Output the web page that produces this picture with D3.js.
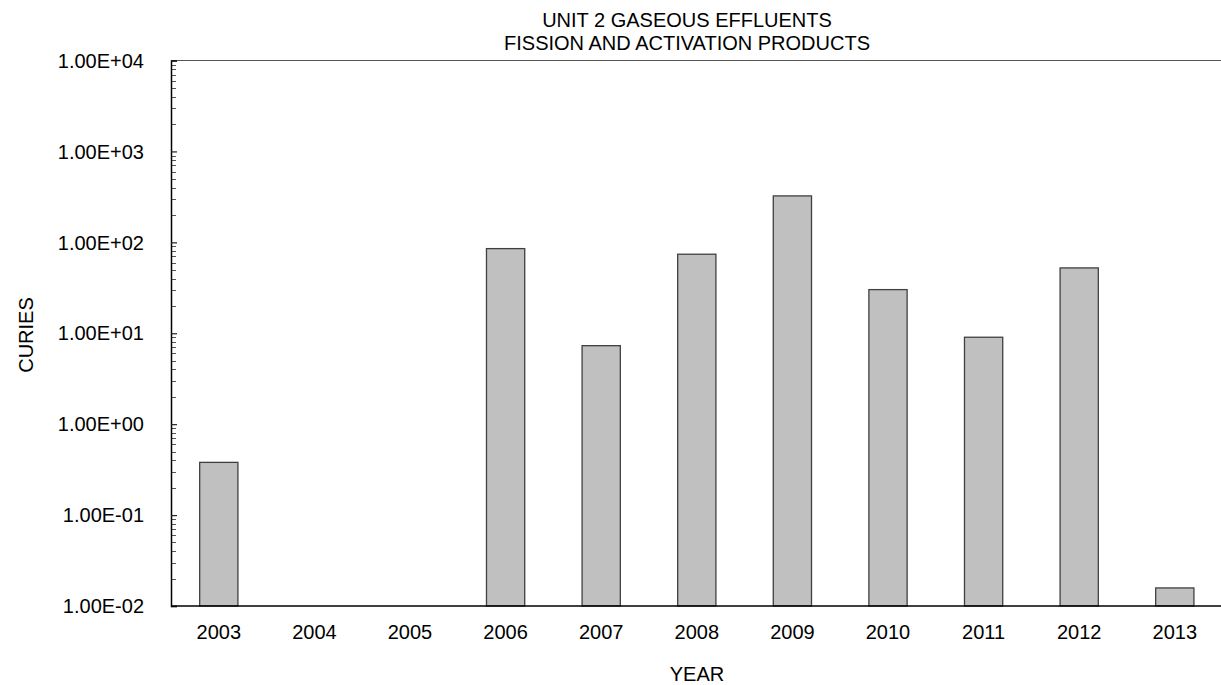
<!DOCTYPE html>
<html><head><meta charset="utf-8">
<script src="https://cdn.jsdelivr.net/npm/d3@7"></script>
<style>body{margin:0;background:#fff;}svg{display:block;font-family:Arial,"Liberation Sans",sans-serif;}</style>
</head><body>
<script>
const years = ["2003","2004","2005","2006","2007","2008","2009","2010","2011","2012","2013"];
const curies = [0.38, null, null, 85.3, 7.3, 74.0, 324, 30.2, 9.04, 52.3, 0.0158];
const yTickValues = [1e-2, 1e-1, 1e0, 1e1, 1e2, 1e3, 1e4];
const yTickLabels = ["1.00E-02","1.00E-01","1.00E+00","1.00E+01","1.00E+02","1.00E+03","1.00E+04"];
const titleLines = ["UNIT 2 GASEOUS EFFLUENTS","FISSION AND ACTIVATION PRODUCTS"];

const W = 1221, H = 685;
const L = 171, R = 1222.6, T = 60.5, B = 606;
const svg = d3.select("body").append("svg").attr("width", W).attr("height", H);

const x = d3.scaleBand().domain(years).range([L, R]).paddingInner(0.6).paddingOuter(0.3);
const y = d3.scaleLog().domain([1e-2, 1e4]).range([B, T]);

// top border
svg.append("line").attr("x1", L).attr("x2", W).attr("y1", T).attr("y2", T)
  .attr("stroke", "#555").attr("stroke-width", 1.2);

// bars
svg.append("g").selectAll("rect")
  .data(years.map((d,i)=>({year:d, v:curies[i]})).filter(d=>d.v!=null))
  .join("rect")
  .attr("x", d=>x(d.year)).attr("width", x.bandwidth())
  .attr("y", d=>y(d.v)).attr("height", d=>B - y(d.v))
  .attr("fill", "#c0c0c0").attr("stroke", "#404040").attr("stroke-width", 1.3);

// minor ticks
const minor = [];
for (let e = -2; e < 4; e++) for (let k = 2; k <= 9; k++) minor.push(k * Math.pow(10, e));
svg.append("g").selectAll("line").data(minor).join("line")
  .attr("x1", L).attr("x2", L + 5)
  .attr("y1", d=>Math.round(y(d))+0.5).attr("y2", d=>Math.round(y(d))+0.5)
  .attr("stroke", "#555").attr("stroke-width", 1);

// left axis with major ticks
const yAxis = d3.axisRight(y).tickValues(yTickValues).tickSize(6).tickFormat("");
const gy = svg.append("g").attr("transform", `translate(${L},0)`).call(yAxis);
gy.select(".domain").attr("stroke", "#000").attr("stroke-width", 1.5);
gy.selectAll(".tick line").attr("stroke", "#222").attr("stroke-width", 1.2);

// y labels
svg.append("g").selectAll("text").data(yTickValues).join("text")
  .attr("x", 144).attr("y", d=>y(d)).attr("dy", "0.36em")
  .attr("text-anchor", "end").attr("font-size", 20).attr("fill", "#000")
  .text((d,i)=>yTickLabels[i]);

// bottom axis
const xAxis = d3.axisBottom(x).tickSize(0).tickPadding(18.5);
const gx = svg.append("g").attr("transform", `translate(0,${B})`).call(xAxis);
gx.select(".domain").attr("d", `M${L},0H${W}`).attr("stroke", "#000").attr("stroke-width", 1.5);
gx.selectAll("text").attr("font-size", 20).attr("fill", "#000").attr("font-family", "Arial,'Liberation Sans',sans-serif");

// axis titles
svg.append("text").attr("x", 697).attr("y", 681).attr("text-anchor", "middle")
  .attr("font-size", 20).text("YEAR");
svg.append("text").attr("transform", "translate(33,335) rotate(-90)").attr("text-anchor", "middle")
  .attr("font-size", 20).text("CURIES");

// title
svg.append("g").selectAll("text").data(titleLines).join("text")
  .attr("x", 687).attr("y", (d,i)=>26.5 + i*23.5).attr("text-anchor", "middle")
  .attr("font-size", 20).text(d=>d);
</script>
</body></html>
